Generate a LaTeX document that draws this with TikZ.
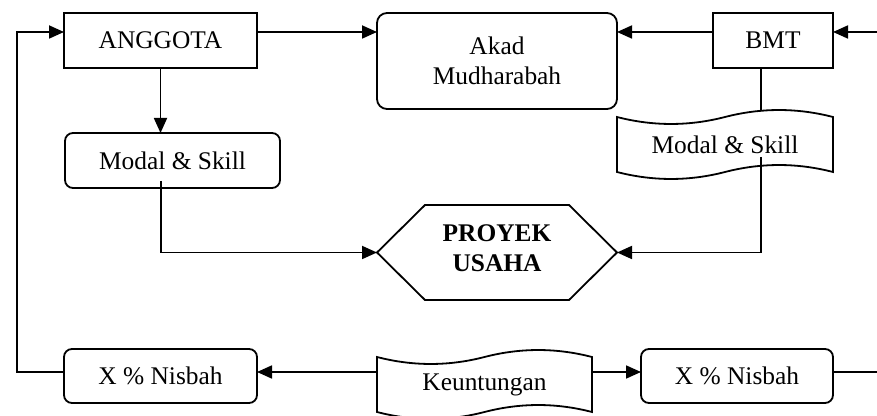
\documentclass[tikz,border=0pt]{standalone}
\usepackage{fontspec}
\setmainfont{Liberation Serif}
\usetikzlibrary{arrows.meta,calc}

% wavy "punched tape" outline drawn around a (borderless) node
\newcommand\tapeoutline[1]{%
  \draw[line width=0.9pt]
    (#1.north west)
      .. controls ($(#1.north west)!0.1667!(#1.north east)+(0,9.3)$)
              and ($(#1.north west)!0.3333!(#1.north east)+(0,9.3)$)
      .. ($(#1.north west)!0.5!(#1.north east)$)
      .. controls ($(#1.north west)!0.6667!(#1.north east)+(0,-9.3)$)
              and ($(#1.north west)!0.8333!(#1.north east)+(0,-9.3)$)
      .. (#1.north east)
    -- (#1.south east)
      .. controls ($(#1.south west)!0.8333!(#1.south east)+(0,-9.3)$)
              and ($(#1.south west)!0.6667!(#1.south east)+(0,-9.3)$)
      .. ($(#1.south west)!0.5!(#1.south east)$)
      .. controls ($(#1.south west)!0.3333!(#1.south east)+(0,9.3)$)
              and ($(#1.south west)!0.1667!(#1.south east)+(0,9.3)$)
      .. (#1.south west)
    -- cycle;}

\begin{document}
\begin{tikzpicture}[x=0.5pt,y=-0.5pt,
  every node/.style={font=\fontsize{12.7}{15}\selectfont, inner sep=0pt,
                     outer sep=0pt, align=center},
  sqbox/.style={draw, line width=0.9pt},
  rbox/.style={draw, line width=0.9pt, rounded corners=4pt},
  link/.style={line width=0.9pt},
  arr/.style={link, -{Triangle[length=7.5pt,width=6.5pt]}}
]
\useasboundingbox (0,0) rectangle (877,416);

% boxes
\node[sqbox, minimum width=96.5pt, minimum height=27.5pt] (ang) at (160.5,40.5) {ANGGOTA};
\node[rbox, rounded corners=5pt, minimum width=120pt, minimum height=48pt] (akad) at (497,61) {Akad\\Mudharabah};
\node[sqbox, minimum width=60pt, minimum height=27.5pt] (bmt) at (773,40.5) {BMT};
\node[rbox, minimum width=107.5pt, minimum height=27.5pt] (ml) at (172.5,160.5) {Modal \& Skill};
\node[minimum width=108pt, minimum height=27.5pt] (mr) at (725,144.5) {Modal \& Skill};
\node[minimum width=120pt, minimum height=47.5pt] (hex) at (497,252.5) {};
\node[font=\fontsize{12.7}{15}\selectfont\bfseries] (hext) at (497,248) {PROYEK\\USAHA};
\node[rbox, minimum width=96.5pt, minimum height=27pt] (xl) at (160.5,376) {X \% Nisbah};
\node[minimum width=107.5pt, minimum height=27.5pt] (keu) at (484.5,384.5) {Keuntungan};
\node[rbox, minimum width=96pt, minimum height=27pt] (xr) at (737,376) {X \% Nisbah};

% shaped outlines
\tapeoutline{mr}
\tapeoutline{keu}
\draw[line width=0.9pt] (hex.west) -- ($(hex.north west)+(48,0)$) -- ($(hex.north east)+(-48,0)$)
  -- (hex.east) -- ($(hex.south east)+(-48,0)$) -- ($(hex.south west)+(48,0)$) -- cycle;

% rails and connector ends
\coordinate (topY) at (0,32);
\coordinate (botY) at (0,372);
\coordinate (leftX) at (17,0);
\coordinate (rightX) at (877,0);
\coordinate (mlout) at (161,181);
\coordinate (mrin) at (761,111);
\coordinate (mrout) at (761,157);

% connectors
\draw[arr] (xl.west |- botY) -| (leftX |- topY) -- (ang.west |- topY);
\draw[arr] (ang.east |- topY) -- (akad.west |- topY);
\draw[arr] (bmt.west |- topY) -- (akad.east |- topY);
\draw[arr] (rightX |- topY) -- (bmt.east |- topY);
\draw[arr] (ang.south) -- (ang.south |- ml.north);
\draw[arr] (mlout) |- (hex.west);
\draw[link] (bmt.south -| mrin) -- (mrin);
\draw[arr] (mrout) |- (hex.east);
\draw[arr] (keu.west |- botY) -- (xl.east |- botY);
\draw[arr] (keu.east |- botY) -- (xr.west |- botY);
\draw[link] (xr.east |- botY) -- (rightX |- botY);
\end{tikzpicture}
\end{document}
